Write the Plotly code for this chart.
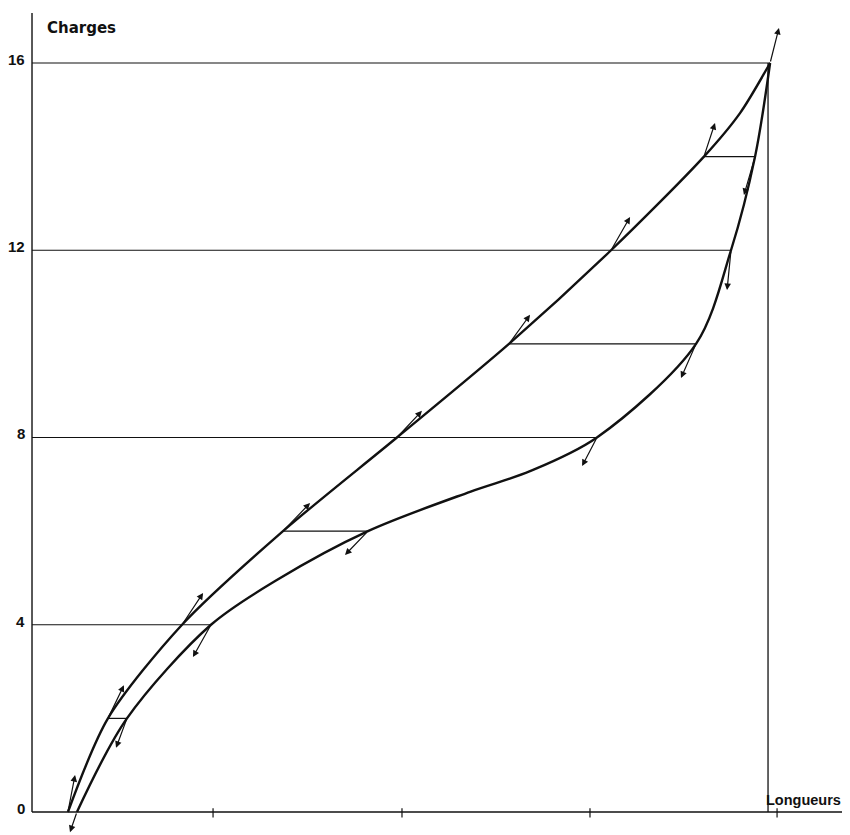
import plotly.graph_objects as go

# ---- data (x: Longueurs in arbitrary units, y: Charges) ----
levels = [0, 2, 4, 6, 8, 10, 12, 14, 16]
upper_x = [0.191, 0.404, 0.798, 1.335, 1.941, 2.537, 3.080, 3.574, 3.926]
lower_x = [0.239, 0.505, 0.952, 1.787, 3.005, 3.532, 3.718, 3.846, 3.926]

# extra intermediate points
upper_mid_x = [3.766]
upper_mid_y = [14.93]
lower_mid_x = [1.30, 2.33, 2.649]
lower_mid_y = [4.95, 6.84, 7.28]

# arrow tips for loading curve (tails are on the curve at each level)
up_arrow_x = [0.229, 0.489, 0.910, 1.479, 2.074, 2.649, 3.181, 3.633, 3.973]
up_arrow_y = [0.79, 2.71, 4.68, 6.60, 8.57, 10.62, 12.71, 14.72, 16.75]
# arrow tips for unloading curve (levels 0..14)
dn_arrow_x = [0.202, 0.447, 0.856, 1.665, 2.926, 3.452, 3.697, 3.787]
dn_arrow_y = [-0.43, 1.37, 3.31, 5.49, 7.39, 9.27, 11.15, 13.18]

y_ticks = [0, 4, 8, 12, 16]
y_tick_labels = ["0", "4", "8", "12", "16"]
x_ticks = [0.963, 1.968, 2.968, 3.963]
x_end = 4.34
y_top = 17.07
vline_x = 3.915

FONT = "DejaVu Sans"
NUM_FONT = "Liberation Sans"
BLACK = "#111111"

fig = go.Figure()

# loading curve
up_pts = sorted(list(zip(levels, upper_x)) + list(zip(upper_mid_y, upper_mid_x)))
fig.add_trace(go.Scatter(x=[p[1] for p in up_pts], y=[p[0] for p in up_pts], mode="lines",
                         line=dict(color=BLACK, width=2.4, shape="spline", smoothing=0.8),
                         hoverinfo="skip", showlegend=False))

# unloading curve (merge intermediate points)
pts = sorted(list(zip(levels, lower_x)) + list(zip(lower_mid_y, lower_mid_x)))
fig.add_trace(go.Scatter(x=[p[1] for p in pts], y=[p[0] for p in pts], mode="lines",
                         line=dict(color=BLACK, width=2.4, shape="spline", smoothing=0.9),
                         hoverinfo="skip", showlegend=False))

# horizontal lines: full lines for multiples of 4, connectors otherwise
for lv, ux, lx in zip(levels, upper_x, lower_x):
    if lv == 0:
        continue
    start = 0 if lv % 4 == 0 else ux
    fig.add_trace(go.Scatter(x=[start, lx], y=[lv, lv], mode="lines",
                             line=dict(color=BLACK, width=1.2),
                             hoverinfo="skip", showlegend=False))

# axes lines
fig.add_trace(go.Scatter(x=[0, x_end], y=[0, 0], mode="lines",
                         line=dict(color=BLACK, width=1.4), hoverinfo="skip", showlegend=False))
fig.add_trace(go.Scatter(x=[0, 0], y=[0, y_top], mode="lines",
                         line=dict(color=BLACK, width=1.4), hoverinfo="skip", showlegend=False))
fig.add_trace(go.Scatter(x=[vline_x, vline_x], y=[0, 16], mode="lines",
                         line=dict(color=BLACK, width=1.3), hoverinfo="skip", showlegend=False))
# x ticks
for tx in x_ticks:
    fig.add_trace(go.Scatter(x=[tx, tx], y=[-0.12, 0.08], mode="lines",
                             line=dict(color=BLACK, width=1.2), hoverinfo="skip", showlegend=False))

# arrows
ann = []
for lv, ux, tx, ty in zip(levels, upper_x, up_arrow_x, up_arrow_y):
    ann.append(dict(x=tx, y=ty, ax=ux, ay=lv, xref="x", yref="y", axref="x", ayref="y",
                    showarrow=True, arrowhead=2, arrowsize=1.1, arrowwidth=1.2,
                    arrowcolor=BLACK, standoff=0, startstandoff=0, text=""))
for lv, lx, tx, ty in zip(levels, lower_x, dn_arrow_x, dn_arrow_y):
    ann.append(dict(x=tx, y=ty, ax=lx, ay=lv, xref="x", yref="y", axref="x", ayref="y",
                    showarrow=True, arrowhead=2, arrowsize=1.1, arrowwidth=1.2,
                    arrowcolor=BLACK, standoff=0, startstandoff=0, text=""))

# tick labels
for tv, tl in zip(y_ticks, y_tick_labels):
    ann.append(dict(x=-0.028, y=tv + 0.08, xref="x", yref="y", text=tl, showarrow=False,
                    xanchor="right", yanchor="middle",
                    font=dict(family=NUM_FONT, size=15, color=BLACK, weight="bold")))
ann.append(dict(x=0.07, y=16.75, xref="x", yref="y", text="Charges", showarrow=False,
                xanchor="left", yanchor="middle",
                font=dict(family=FONT, size=15, color=BLACK, weight="bold")))
ann.append(dict(x=vline_x - 0.02, y=0.25, xref="x", yref="y", text="Longueurs", showarrow=False,
                xanchor="left", yanchor="middle",
                font=dict(family=NUM_FONT, size=14.5, color=BLACK, weight="bold")))

# page body has an 8px margin: figure is 842x827 and the ranges account for it
fig.update_layout(
    width=842, height=827, autosize=False,
    margin=dict(l=0, r=0, t=0, b=0),
    paper_bgcolor="white", plot_bgcolor="white",
    xaxis=dict(range=[-0.1277, 4.351], visible=False, fixedrange=True),
    yaxis=dict(range=[-0.4913, 17.175], visible=False, fixedrange=True),
    annotations=ann,
    showlegend=False,
)

fig.write_html("out.html")
